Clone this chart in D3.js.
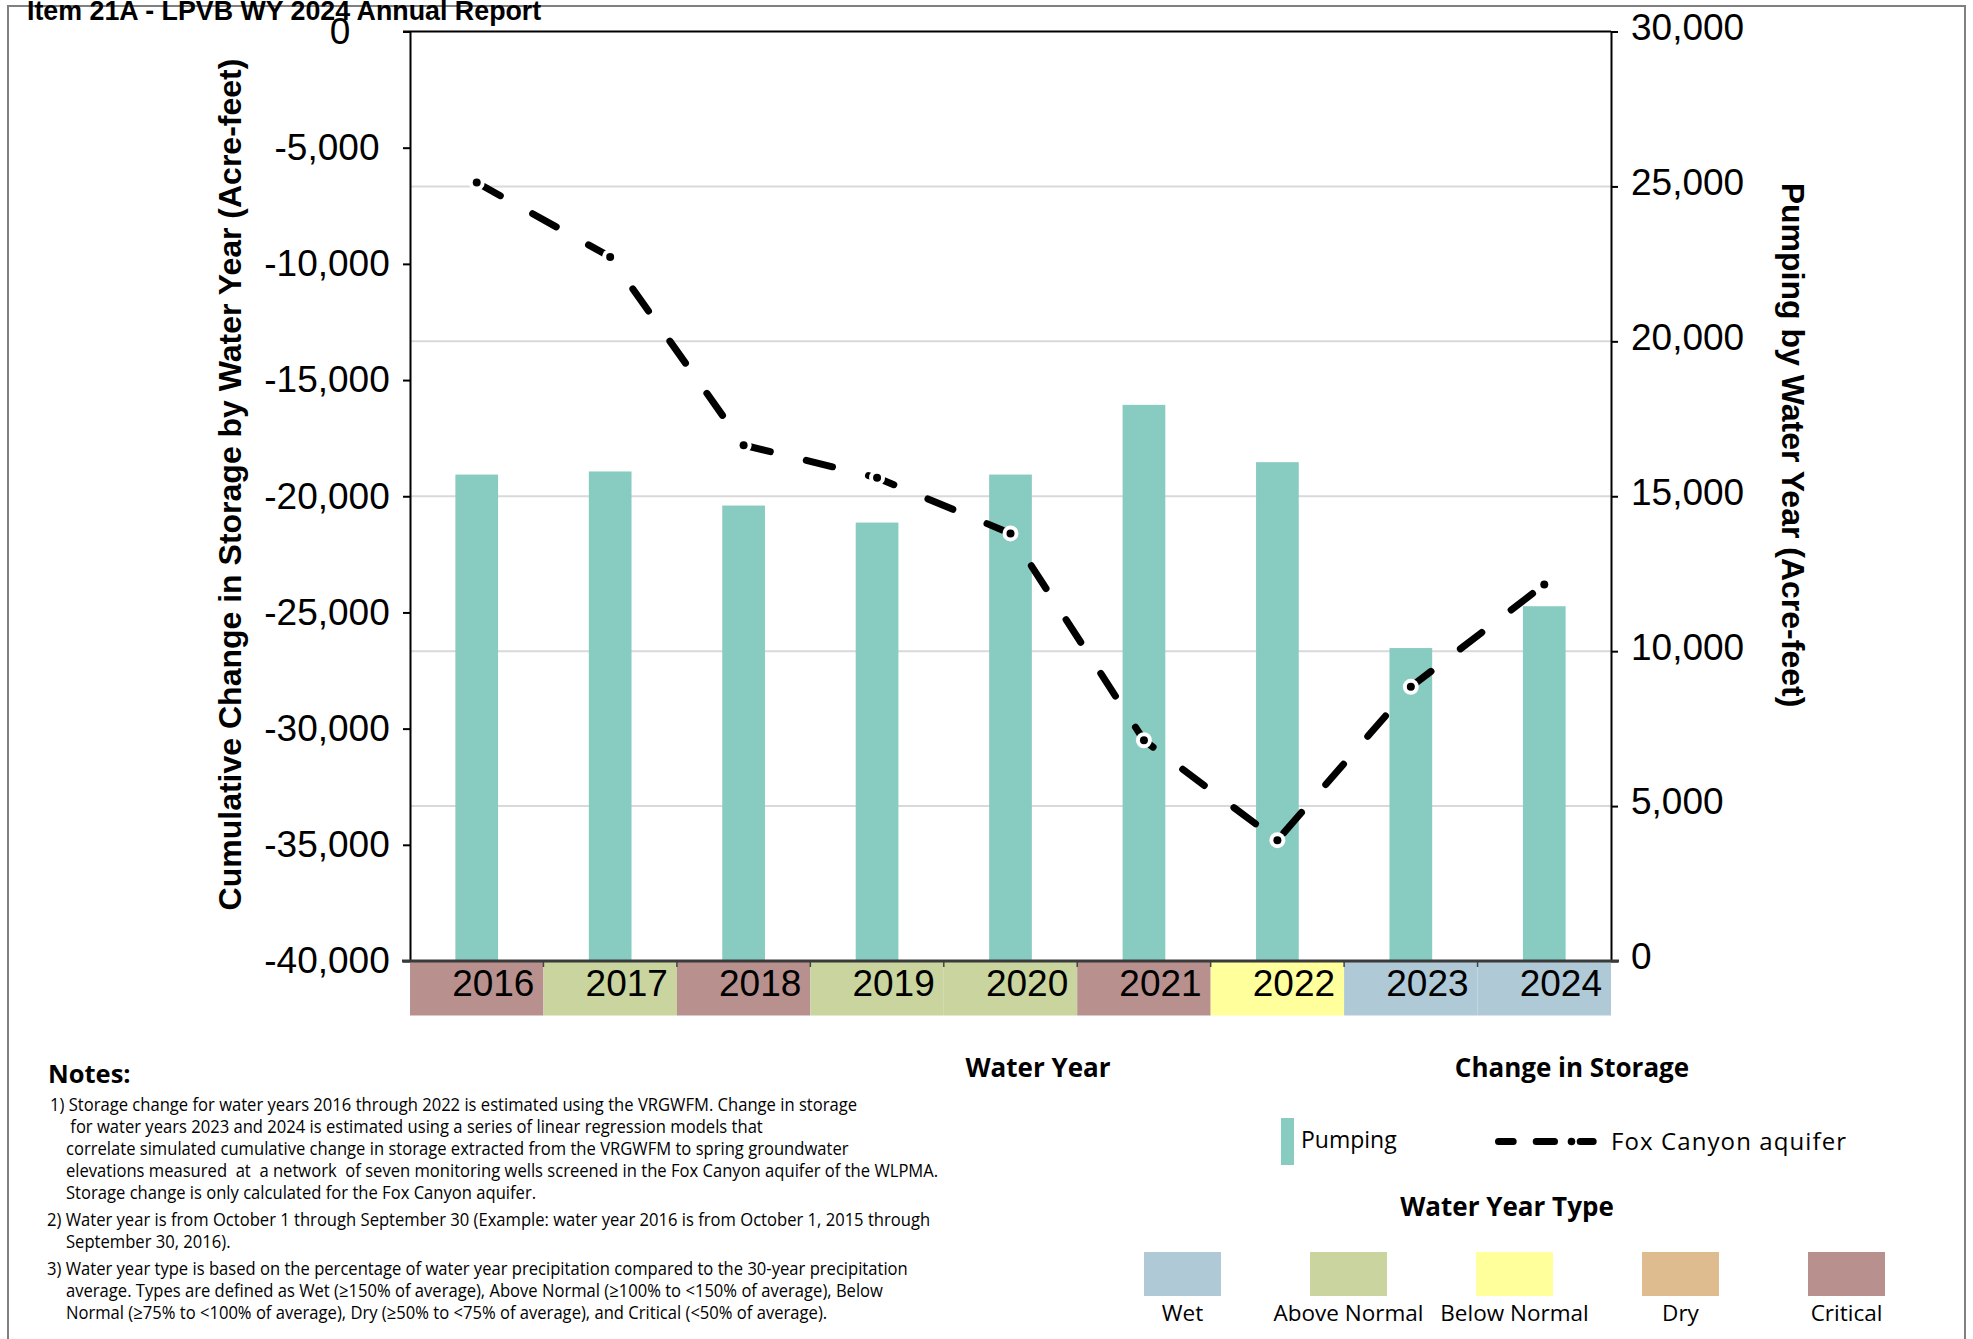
<!DOCTYPE html>
<html>
<head>
<meta charset="utf-8">
<script src="https://cdn.jsdelivr.net/npm/d3@7"></script>
<style>
  html, body { margin: 0; padding: 0; background: #ffffff; }
  svg { display: block; }
</style>
</head>
<body>
<svg id="chart" width="1973" height="1339"></svg>
<script>
// ---- data -------------------------------------------------------------
const years = ["2016", "2017", "2018", "2019", "2020", "2021", "2022", "2023", "2024"];
// Annual pumping (acre-feet)
const pumping = [15700, 15800, 14700, 14150, 15700, 17950, 16100, 10100, 11450];
// Cumulative change in storage, Fox Canyon aquifer (acre-feet)
const storage = [-6500, -9700, -17800, -19200, -21600, -30500, -34800, -28200, -23800];
// Water year type for each year
const yearTypes = ["Critical", "Above Normal", "Critical", "Above Normal", "Above Normal",
                   "Critical", "Below Normal", "Wet", "Wet"];
const typeNames = ["Wet", "Above Normal", "Below Normal", "Dry", "Critical"];
const typeColors = ["#AFC9D7", "#C9D49E", "#FFFF9C", "#DEBC8F", "#B8918F"];
const storageTicks = [0, -5000, -10000, -15000, -20000, -25000, -30000, -35000, -40000];
const pumpingTicks = [0, 5000, 10000, 15000, 20000, 25000, 30000];
const noteParagraphs = [
  ["1) Storage change for water years 2016 through 2022 is estimated using the VRGWFM. Change in storage",
   " for water years 2023 and 2024 is estimated using a series of linear regression models that",
   "correlate simulated cumulative change in storage extracted from the VRGWFM to spring groundwater",
   "elevations measured  at  a network  of seven monitoring wells screened in the Fox Canyon aquifer of the WLPMA.",
   "Storage change is only calculated for the Fox Canyon aquifer."],
  ["2) Water year is from October 1 through September 30 (Example: water year 2016 is from October 1, 2015 through",
   "September 30, 2016)."],
  ["3) Water year type is based on the percentage of water year precipitation compared to the 30-year precipitation",
   "average. Types are defined as Wet (\u2265150% of average), Above Normal (\u2265100% to <150% of average), Below",
   "Normal (\u226575% to <100% of average), Dry (\u226550% to <75% of average), and Critical (<50% of average)."]
];

// ---- styling ------------------------------------------------------------
const ARIAL = "'Liberation Sans', Arial, Helvetica, sans-serif";
const SANS = "'Open Sans', 'Noto Sans', sans-serif";
const BAR = "#88CBC0";
const typeColor = d3.scaleOrdinal(typeNames, typeColors);
const fmt = d3.formatLocale({decimal: ".", thousands: ",", grouping: [3], currency: ["$", ""], minus: "-"}).format(",");

const svg = d3.select("#chart");
const plot = {left: 410, right: 1611, top: 31.5, bottom: 961};

const x = d3.scaleBand(years, [plot.left, plot.right]).padding(0);
const yStore = d3.scaleLinear([-40000, 0], [plot.bottom, plot.top]);
const yPump = d3.scaleLinear([0, 30000], [plot.bottom, plot.top]);
const barW = x.bandwidth() * 0.32;

// page frame
svg.append("rect")
  .attr("x", 8).attr("y", 6).attr("width", 1957).attr("height", 1400)
  .attr("fill", "none").attr("stroke", "#808080").attr("stroke-width", 2);

// report header
svg.append("text")
  .attr("x", 27).attr("y", 20)
  .attr("font-family", ARIAL).attr("font-weight", "bold").attr("font-size", 26.8)
  .attr("fill", "#000").text("Item 21A - LPVB WY 2024 Annual Report");

// horizontal gridlines on the pumping scale
svg.append("g").selectAll("line")
  .data(pumpingTicks.filter(d => d > 0 && d < 30000))
  .join("line")
  .attr("x1", plot.left).attr("x2", plot.right)
  .attr("y1", d => yPump(d)).attr("y2", d => yPump(d))
  .attr("stroke", "#D9D9D9").attr("stroke-width", 2);

// pumping bars
svg.append("g").selectAll("rect")
  .data(years)
  .join("rect")
  .attr("x", (d) => x(d) + x.bandwidth() / 2 - barW / 2)
  .attr("width", barW)
  .attr("y", (d, i) => yPump(pumping[i]))
  .attr("height", (d, i) => yPump(0) - yPump(pumping[i]))
  .attr("fill", BAR);

// water year type strip under the axis
const strip = svg.append("g");
strip.selectAll("rect")
  .data(years)
  .join("rect")
  .attr("x", d => x(d)).attr("width", x.bandwidth())
  .attr("y", plot.bottom).attr("height", 54.5)
  .attr("fill", (d, i) => typeColor(yearTypes[i]));
strip.selectAll("line")
  .data(years.slice(1))
  .join("line")
  .attr("x1", d => x(d)).attr("x2", d => x(d))
  .attr("y1", plot.bottom).attr("y2", plot.bottom + 6)
  .attr("stroke", "#444").attr("stroke-width", 1.5);
strip.selectAll("text")
  .data(years)
  .join("text")
  .attr("x", d => x(d) + x.bandwidth() - 9)
  .attr("y", plot.bottom + 35)
  .attr("text-anchor", "end")
  .attr("font-family", ARIAL).attr("font-size", 37)
  .attr("fill", "#000").text(d => d);

// plot top border
svg.append("line")
  .attr("x1", plot.left - 7).attr("x2", plot.right)
  .attr("y1", plot.top).attr("y2", plot.top)
  .attr("stroke", "#000").attr("stroke-width", 2);

// left axis: cumulative change in storage
const gL = svg.append("g")
  .attr("transform", `translate(${plot.left},0)`)
  .call(d3.axisLeft(yStore).tickValues(storageTicks).tickSize(7).tickSizeOuter(0).tickFormat(fmt));
gL.select(".domain").attr("stroke", "#000").attr("stroke-width", 2);
gL.selectAll(".tick line").attr("stroke", "#000").attr("stroke-width", 2);
gL.selectAll(".tick text")
  .attr("x", d => d === 0 ? -70 : -83).attr("text-anchor", "middle")
  .attr("font-family", ARIAL).attr("font-size", 37).attr("fill", "#000");

// right axis: pumping
const gR = svg.append("g")
  .attr("transform", `translate(${plot.right},0)`)
  .call(d3.axisRight(yPump).tickValues(pumpingTicks).tickSize(7).tickSizeOuter(0).tickFormat(fmt));
gR.select(".domain").attr("stroke", "#000").attr("stroke-width", 2);
gR.selectAll(".tick line").attr("stroke", "#000").attr("stroke-width", 2);
gR.selectAll(".tick text")
  .attr("x", 20).attr("y", -4).attr("text-anchor", "start")
  .attr("font-family", ARIAL).attr("font-size", 37).attr("fill", "#000");

// bottom axis line
svg.append("line")
  .attr("x1", plot.left - 8).attr("x2", plot.right + 8)
  .attr("y1", plot.bottom).attr("y2", plot.bottom)
  .attr("stroke", "#3a3a3a").attr("stroke-width", 3);

// axis titles
svg.append("text")
  .attr("transform", `translate(230,484.5) rotate(-90)`)
  .attr("text-anchor", "middle").attr("dominant-baseline", "central")
  .attr("font-family", ARIAL).attr("font-weight", "bold").attr("font-size", 32)
  .text("Cumulative Change in Storage by Water Year (Acre-feet)");
svg.append("text")
  .attr("transform", `translate(1793,445) rotate(90)`)
  .attr("text-anchor", "middle").attr("dominant-baseline", "central")
  .attr("font-family", ARIAL).attr("font-weight", "bold").attr("font-size", 32)
  .text("Pumping by Water Year (Acre-feet)");

// storage line (Fox Canyon aquifer)
const pts = years.map((d, i) => [x(d) + x.bandwidth() / 2, yStore(storage[i])]);
svg.append("path")
  .attr("d", d3.line()(pts))
  .attr("fill", "none").attr("stroke", "#000").attr("stroke-width", 7)
  .attr("stroke-linecap", "round").attr("stroke-linejoin", "round")
  .attr("stroke-dasharray", "27,37");
const marks = svg.append("g").selectAll("g").data(pts).join("g")
  .attr("transform", d => `translate(${d[0]},${d[1]})`);
marks.append("circle").attr("r", 8).attr("fill", "#fff");
marks.append("circle").attr("r", 4).attr("fill", "#000");

// ---- notes ----------------------------------------------------------------
const notesG = svg.append("g");
notesG.append("text")
  .attr("x", 48).attr("y", 1083)
  .attr("font-family", SANS).attr("font-weight", "bold").attr("font-size", 25.5)
  .text("Notes:");
let base = 1110.7;
const noteTexts = [];
noteParagraphs.forEach((para, p) => {
  para.forEach((line, k) => {
    const t = notesG.append("text")
      .attr("font-family", SANS).attr("font-size", 18.5)
      .attr("xml:space", "preserve")
      .style("white-space", "pre")
      .attr("fill", "#000")
      .text(line);
    noteTexts.push({t, x: k === 0 ? (p === 0 ? 50 : 47) : 66, y: base});
    base += 22;
  });
  base += 5;
});
// condense the notes horizontally to the narrow face used in the report
const refLine = noteTexts[3].t.node().getComputedTextLength();
const sx = 873 / refLine;
noteTexts.forEach(o => o.t.attr("transform", `translate(${o.x},${o.y}) scale(${sx},1)`));

// ---- legends ----------------------------------------------------------------
const headStyle = sel => sel.attr("font-family", SANS).attr("font-weight", "bold")
  .attr("font-size", 26).attr("text-anchor", "middle").attr("fill", "#000");
svg.append("text").call(headStyle).attr("x", 1038).attr("y", 1077).text("Water Year");
svg.append("text").call(headStyle).attr("x", 1572).attr("y", 1077).text("Change in Storage");
svg.append("text").call(headStyle).attr("x", 1507).attr("y", 1216).text("Water Year Type");

// pumping key
svg.append("rect").attr("x", 1281).attr("y", 1118).attr("width", 13).attr("height", 47).attr("fill", BAR);
svg.append("text").attr("x", 1301).attr("y", 1148)
  .attr("font-family", SANS).attr("font-size", 23).text("Pumping");

// storage line key
svg.append("path")
  .attr("d", d3.line()([[1498.5, 1141.5], [1594, 1141.5]]))
  .attr("fill", "none").attr("stroke", "#000").attr("stroke-width", 7)
  .attr("stroke-linecap", "round").attr("stroke-dasharray", "14.7,23,18.3,25.7,13,100");
svg.append("circle").attr("cx", 1571.5).attr("cy", 1141.5).attr("r", 3.8).attr("fill", "#000");
svg.append("text").attr("x", 1611).attr("y", 1149.5)
  .attr("font-family", SANS).attr("font-size", 24).attr("letter-spacing", 1.1)
  .text("Fox Canyon aquifer");

// water year type swatches
const sw = svg.append("g").selectAll("g").data(typeNames).join("g")
  .attr("transform", (d, i) => `translate(${1144 + i * 166},1252)`);
sw.append("rect").attr("width", 77).attr("height", 44).attr("fill", d => typeColor(d));
sw.append("text").attr("x", 38.5).attr("y", 69)
  .attr("text-anchor", "middle").attr("font-family", SANS).attr("font-size", 22.5)
  .text(d => d);
</script>
</body>
</html>
